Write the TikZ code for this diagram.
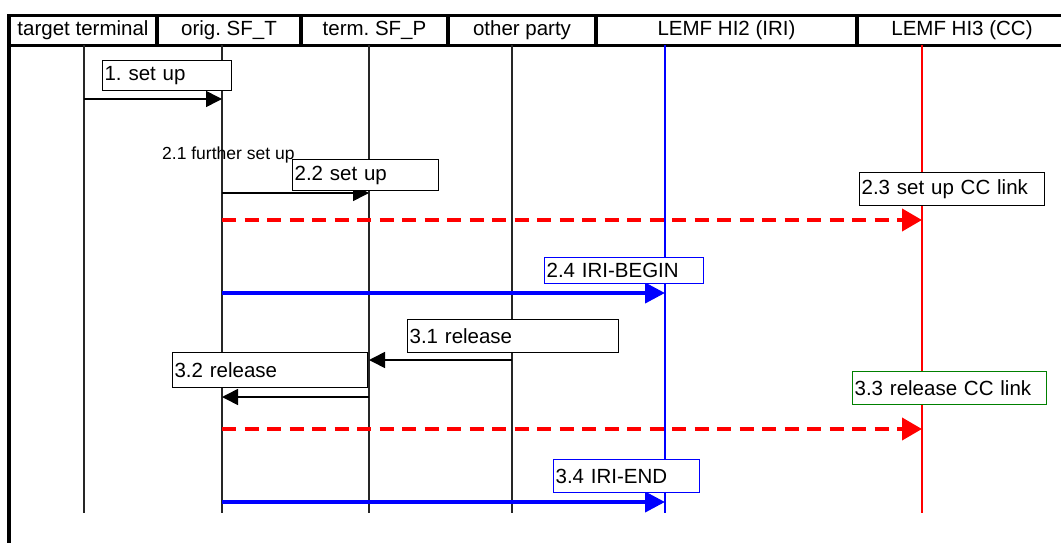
\documentclass[tikz,border=0pt]{standalone}
\usepackage{fontspec}
\setmainfont{Liberation Sans}
\usetikzlibrary{arrows.meta,positioning}
\definecolor{IriBlue}{HTML}{0000FF}
\definecolor{CcRed}{HTML}{FF0000}
\definecolor{LinkGreen}{HTML}{008000}
\frenchspacing

\begin{document}
\begin{tikzpicture}[x=1pt,y=-1pt,
  hdr/.style={draw,line width=3.5pt,outer sep=0pt,inner sep=0pt,
    minimum height=30pt,font=\fontsize{20.5}{24}\selectfont},
  life/.style={line width=1.3pt,black!85},
  msg/.style={-{Triangle[length=16pt,width=16pt]},line width=1.6pt},
  iri/.style={-{Triangle[length=20pt,width=20pt]},line width=4pt,color=IriBlue},
  cc/.style={-{Triangle[length=20pt,width=22pt]},line width=4pt,color=CcRed,
    dash pattern=on 14pt off 8.5pt},
  lbl/.style={draw,line width=1.2pt,fill=white,anchor=north west,align=left,
    inner xsep=2pt,inner ysep=0pt,minimum height=32pt,
    font=\fontsize{20.5}{24}\selectfont}
]
\useasboundingbox (0,0) rectangle (1061,543);
% header row
\node[hdr,minimum width=148pt] (hTT) at (83,30.5) {target terminal};
\node[hdr,minimum width=144pt,right=0pt of hTT] (hOrig) {orig. SF\_T};
\node[hdr,minimum width=147pt,right=0pt of hOrig] (hTerm) {term. SF\_P};
\node[hdr,minimum width=148pt,right=0pt of hTerm] (hOther) {other party};
\node[hdr,minimum width=261pt,right=0pt of hOther] (hHI2) {LEMF HI2 (IRI)};
\node[hdr,minimum width=210pt,right=0pt of hHI2] (hHI3) {LEMF HI3 (CC)};
\coordinate (frameEnd) at (0,550);
\draw[line width=3.5pt] (hTT.south west) -- (hTT.south west |- frameEnd);
% lifelines
\coordinate (bot) at (0,513);
\coordinate (lTT) at (84,45);
\coordinate (lOrig) at (222,45);
\coordinate (lTerm) at (369,45);
\coordinate (lOther) at (512,45);
\coordinate (lHI2) at (665,45);
\coordinate (lHI3) at (922,45);
\foreach \l in {lTT,lOrig,lTerm,lOther}
  \draw[life] (\l) -- (\l |- bot);
\draw[life,IriBlue] (lHI2) -- (lHI2 |- bot);
\draw[life,CcRed] (lHI3) -- (lHI3 |- bot);
% message rows
\coordinate (r1) at (0,99);
\coordinate (r22) at (0,193);
\coordinate (r23) at (0,220);
\coordinate (r24) at (0,293);
\coordinate (r31) at (0,360);
\coordinate (r32) at (0,397);
\coordinate (r33) at (0,429);
\coordinate (r34) at (0,502);
\draw[msg] (lTT |- r1) -- (lOrig |- r1);
\draw[msg] (lOrig |- r22) -- (lTerm |- r22);
\draw[cc] (lOrig |- r23) -- (lHI3 |- r23);
\draw[iri] (lOrig |- r24) -- (lHI2 |- r24);
\draw[msg] (lOther |- r31) -- (lTerm |- r31);
\draw[msg] (lTerm |- r32) -- (lOrig |- r32);
\draw[cc] (lOrig |- r33) -- (lHI3 |- r33);
\draw[iri] (lOrig |- r34) -- (lHI2 |- r34);
% labels
\node[anchor=west,inner sep=0pt,font=\fontsize{17.5}{20}\selectfont] (t21) at (162,155) {2.1 further set up};
\node[lbl,text width=125pt,minimum height=30pt] (t1) at (102,60) {1. set up};
\node[lbl,text width=142pt,minimum height=31pt] (t22) at (292,159) {2.2 set up};
\node[lbl,text width=181pt,minimum height=33pt] (t23) at (859,172) {2.3 set up CC link};
\node[lbl,draw=IriBlue,text width=155pt,minimum height=26pt] (t24) at (544,257) {2.4 IRI-BEGIN};
\node[lbl,text width=207pt,minimum height=33pt] (t31) at (407,319) {3.1 release};
\node[lbl,text width=191pt,minimum height=35pt] (t32) at (172,352) {3.2 release};
\node[lbl,draw=LinkGreen,text width=190pt,minimum height=33pt] (t33) at (852,371) {3.3 release CC link};
\node[lbl,draw=IriBlue,text width=142pt,minimum height=33pt] (t34) at (553,459) {3.4 IRI-END};
\end{tikzpicture}
\end{document}
